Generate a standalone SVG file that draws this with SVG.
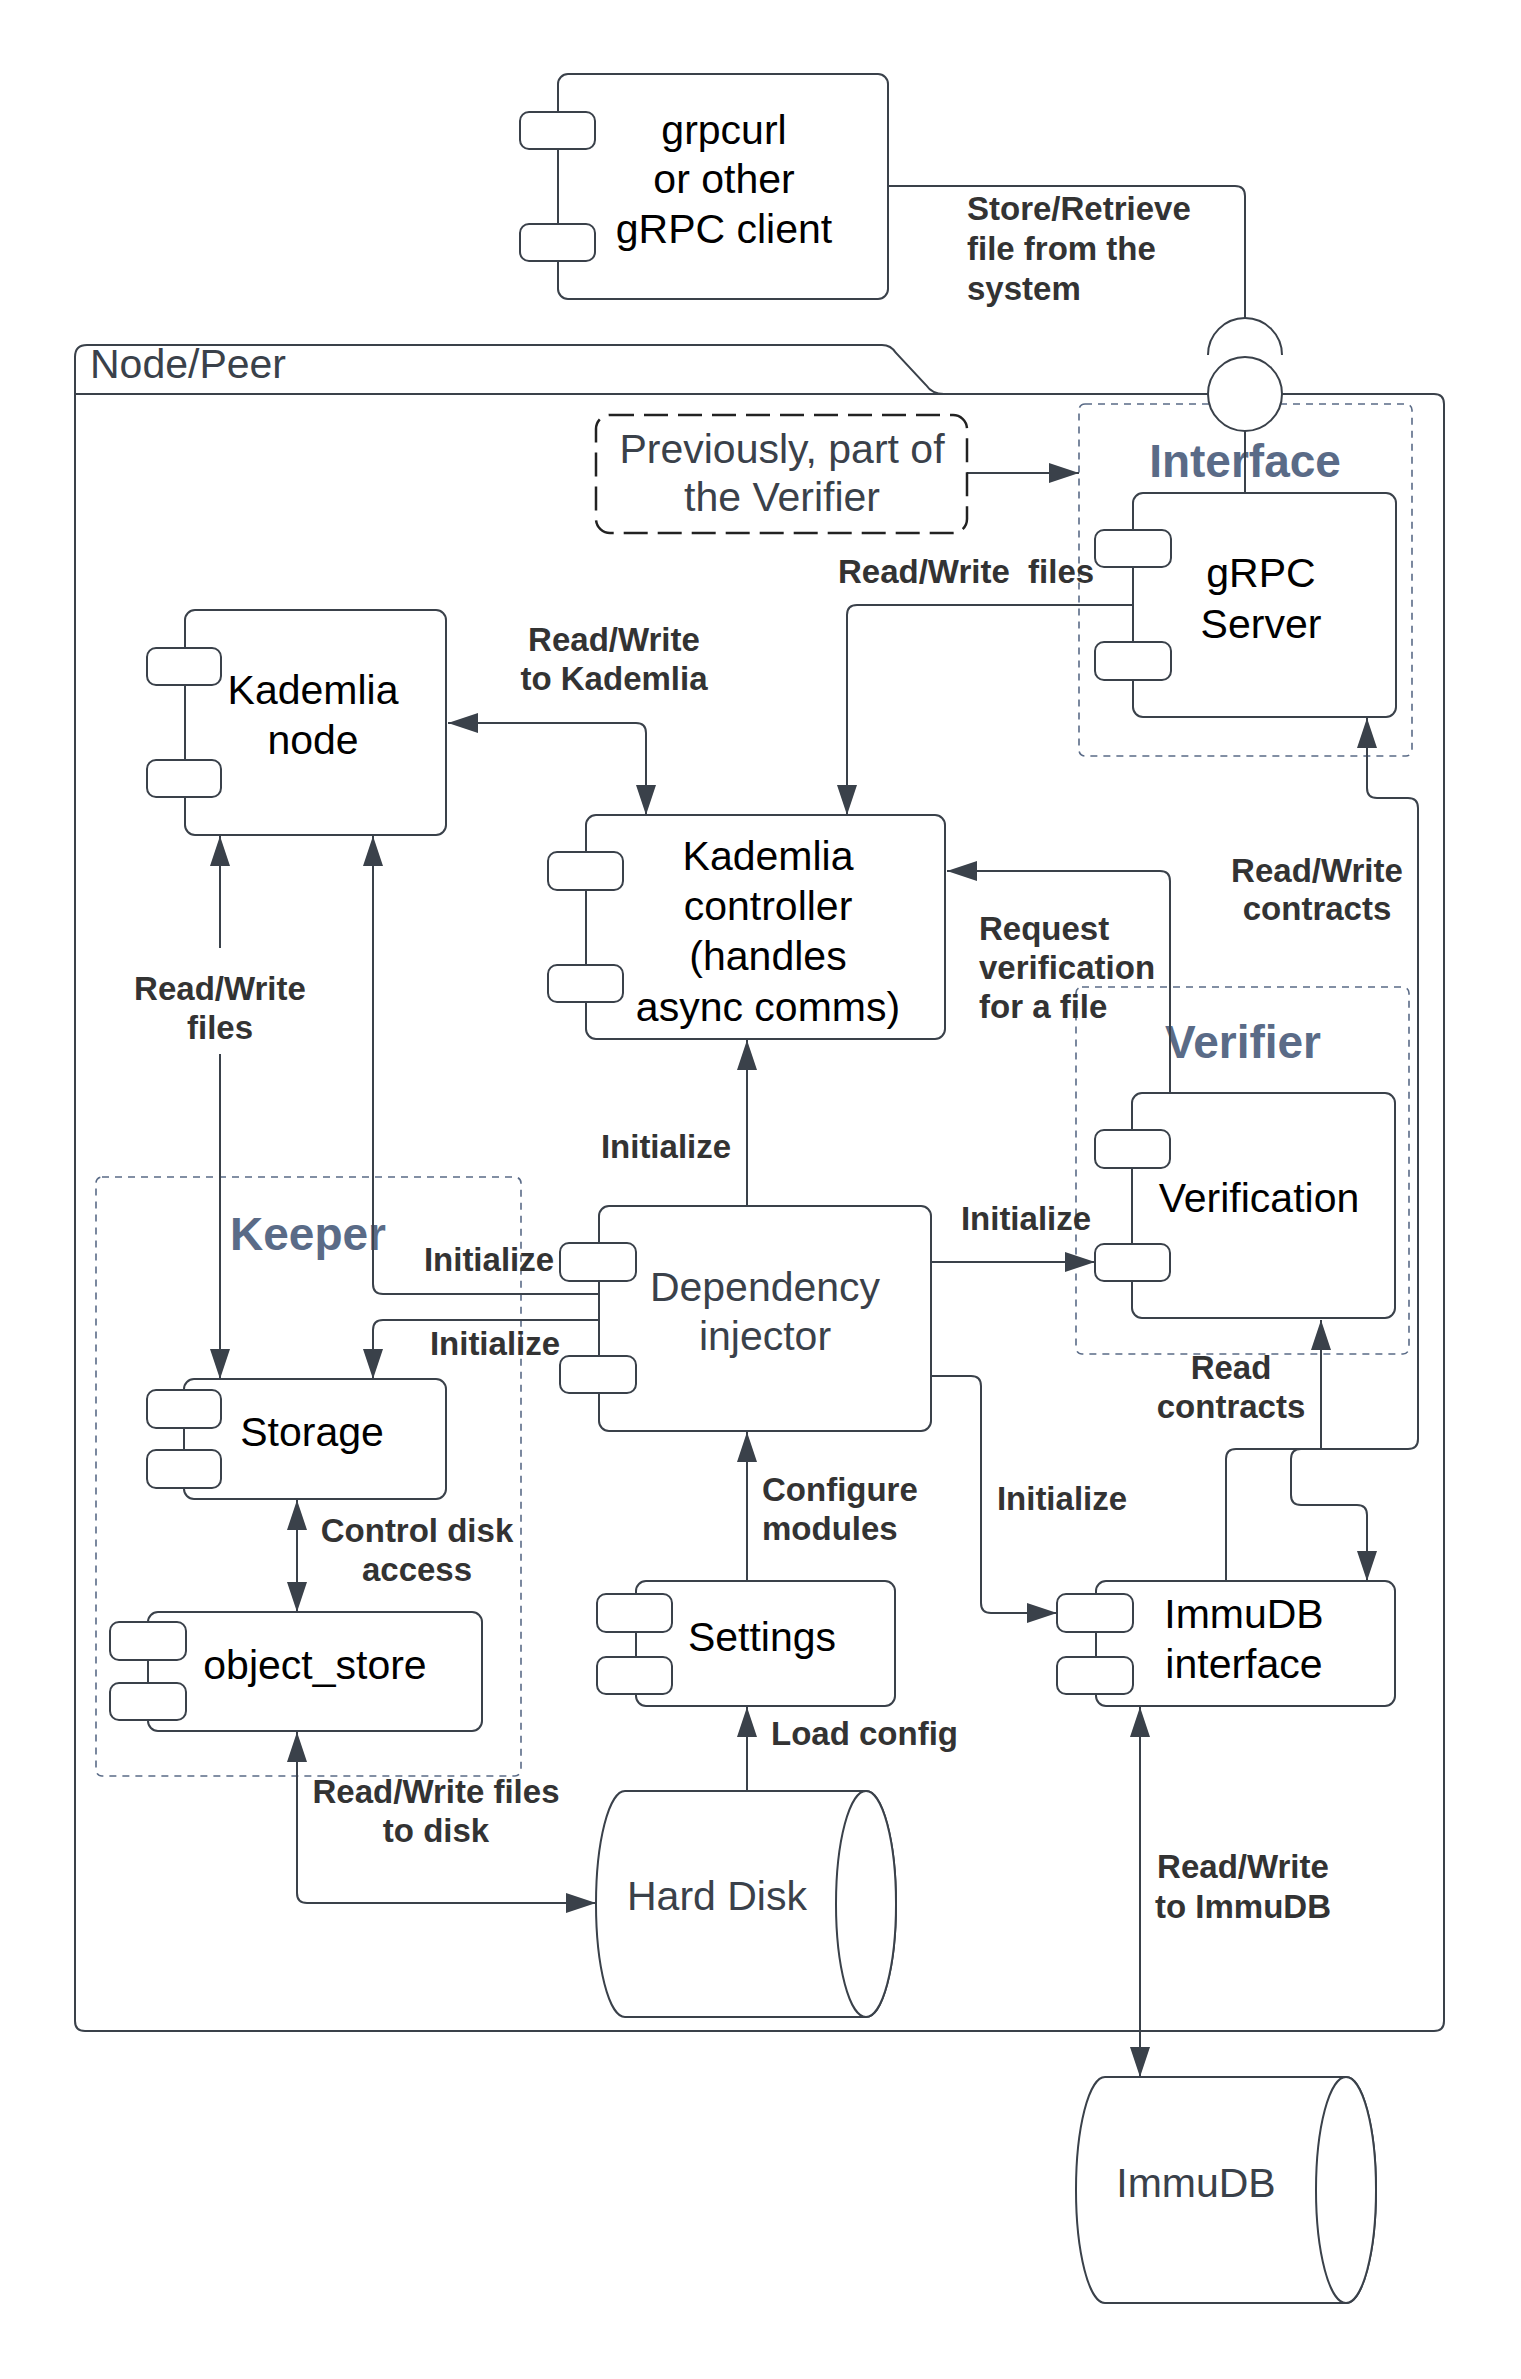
<svg xmlns="http://www.w3.org/2000/svg" width="1521" height="2379" viewBox="0 0 1521 2379">
<style>
.box{fill:#fff;stroke:#3a414a;stroke-width:2}
.conn{fill:none;stroke:#3a414a;stroke-width:2}
.grp{fill:none;stroke:#5a6b87;stroke-width:1.6;stroke-dasharray:7 6}
.t{font-family:"Liberation Sans",Arial,sans-serif;font-size:41px;fill:#000;text-anchor:middle}
.tg{fill:#3a414a}
.lbl{font-family:"Liberation Sans",Arial,sans-serif;font-size:33px;font-weight:bold;fill:#333}
.c{text-anchor:middle}
.glbl{font-family:"Liberation Sans",Arial,sans-serif;font-size:46px;font-weight:bold;fill:#5a6b87;text-anchor:middle}
</style>
<defs>
<marker id="arr" viewBox="0 0 30 20" refX="30" refY="10" markerWidth="30" markerHeight="20" markerUnits="userSpaceOnUse" orient="auto-start-reverse"><path d="M0,0 L30,10 L0,20 z" fill="#3a414a"/></marker>
</defs>
<rect width="1521" height="2379" fill="#fff"/>

<g id="node-peer">
<path class="box" d="M75,2020 V357 Q75,345 87,345 H882 Q891,345 896,353 L926,385 Q932,394 944,394 H1434 Q1444,394 1444,404 V2021 Q1444,2031 1434,2031 H85 Q75,2031 75,2021 Z"/>
<path class="conn" d="M75,394 H944"/>
<text class="t tg" x="90" y="378" style="text-anchor:start">Node/Peer</text>
</g>

<g id="group-interface"><rect class="grp" x="1079" y="404" width="333" height="352" rx="6"/><text class="glbl" x="1245" y="477">Interface</text></g>
<g id="group-verifier"><rect class="grp" x="1076" y="987" width="333" height="367" rx="6"/><text class="glbl" x="1243" y="1058">Verifier</text></g>
<g id="group-keeper"><rect class="grp" x="96" y="1177" width="425" height="599" rx="6"/><text class="glbl" x="308" y="1250">Keeper</text></g>

<g id="connectors">
<path class="conn" d="M888,186 H1235 Q1245,186 1245,196 V318"/>
<path class="conn" d="M1208,355 A37,37 0 0 1 1282,355"/>
<path class="conn" d="M1245,430 V493"/>
<path class="conn" marker-end="url(#arr)" d="M967,473 H1079"/>
<path class="conn" marker-end="url(#arr)" d="M1133,605 H857 Q847,605 847,615 V815"/>
<path class="conn" marker-start="url(#arr)" marker-end="url(#arr)" d="M448,723 H636 Q646,723 646,733 V815"/>
<path class="conn" marker-end="url(#arr)" d="M1170,1093 V881 Q1170,871 1160,871 H947"/>
<path class="conn" marker-end="url(#arr)" d="M1226,1581 V1459 Q1226,1449 1236,1449 H1408 Q1418,1449 1418,1439 V808 Q1418,798 1408,798 H1377 Q1367,798 1367,788 V718"/>
<path class="conn" marker-start="url(#arr)" marker-end="url(#arr)" d="M1321,1320 V1449 H1301 Q1291,1449 1291,1459 V1495 Q1291,1505 1301,1505 H1357 Q1367,1505 1367,1515 V1581"/>
<path class="conn" marker-end="url(#arr)" d="M747,1206 V1040"/>
<path class="conn" marker-end="url(#arr)" d="M931,1262 H1095"/>
<path class="conn" marker-end="url(#arr)" d="M599,1294 H383 Q373,1294 373,1284 V836"/>
<path class="conn" marker-end="url(#arr)" d="M599,1320 H383 Q373,1320 373,1330 V1379"/>
<path class="conn" marker-end="url(#arr)" d="M931,1376 H971 Q981,1376 981,1386 V1603 Q981,1613 991,1613 H1057"/>
<path class="conn" marker-start="url(#arr)" marker-end="url(#arr)" d="M220,836 V1379"/>
<path class="conn" marker-start="url(#arr)" marker-end="url(#arr)" d="M297,1500 V1612"/>
<path class="conn" marker-start="url(#arr)" marker-end="url(#arr)" d="M297,1732 V1893 Q297,1903 307,1903 H596"/>
<path class="conn" marker-end="url(#arr)" d="M747,1581 V1432"/>
<path class="conn" marker-end="url(#arr)" d="M747,1791 V1707"/>
<path class="conn" marker-start="url(#arr)" marker-end="url(#arr)" d="M1140,1707 V2077"/>
</g>

<g id="ball"><circle class="box" cx="1245" cy="394" r="37"/></g>

<g id="grpc-client">
<rect class="box" x="558" y="74" width="330" height="225" rx="10"/>
<rect class="box" x="520" y="112" width="75" height="37" rx="9"/>
<rect class="box" x="520" y="224" width="75" height="37" rx="9"/>
<text class="t" x="724" y="144">grpcurl</text>
<text class="t" x="724" y="193">or other</text>
<text class="t" x="724" y="243">gRPC client</text>
</g>

<g id="note-previously">
<rect x="596" y="415" width="371" height="118" rx="14" fill="#fff" stroke="#222" stroke-width="2.5" stroke-dasharray="24 10"/>
<text class="t tg" x="782" y="463">Previously, part of</text>
<text class="t tg" x="782" y="511">the Verifier</text>
</g>

<g id="grpc-server">
<rect class="box" x="1133" y="493" width="263" height="224" rx="10"/>
<rect class="box" x="1095" y="530" width="76" height="37" rx="9"/>
<rect class="box" x="1095" y="642" width="76" height="38" rx="9"/>
<text class="t" x="1261" y="587">gRPC</text>
<text class="t" x="1261" y="638">Server</text>
</g>

<g id="kademlia-node">
<rect class="box" x="185" y="610" width="261" height="225" rx="10"/>
<rect class="box" x="147" y="648" width="74" height="37" rx="9"/>
<rect class="box" x="147" y="760" width="74" height="37" rx="9"/>
<text class="t" x="313" y="704">Kademlia</text>
<text class="t" x="313" y="754">node</text>
</g>

<g id="kademlia-controller">
<rect class="box" x="586" y="815" width="359" height="224" rx="10"/>
<rect class="box" x="548" y="852" width="75" height="38" rx="9"/>
<rect class="box" x="548" y="965" width="75" height="37" rx="9"/>
<text class="t" x="768" y="870">Kademlia</text>
<text class="t" x="768" y="920">controller</text>
<text class="t" x="768" y="970">(handles</text>
<text class="t" x="768" y="1021">async comms)</text>
</g>

<g id="verification">
<rect class="box" x="1132" y="1093" width="263" height="225" rx="10"/>
<rect class="box" x="1095" y="1130" width="75" height="38" rx="9"/>
<rect class="box" x="1095" y="1244" width="75" height="37" rx="9"/>
<text class="t" x="1259" y="1212">Verification</text>
</g>

<g id="dependency-injector">
<rect class="box" x="599" y="1206" width="332" height="225" rx="10"/>
<rect class="box" x="560" y="1243" width="76" height="38" rx="9"/>
<rect class="box" x="560" y="1356" width="76" height="37" rx="9"/>
<text class="t tg" x="765" y="1301">Dependency</text>
<text class="t tg" x="765" y="1350">injector</text>
</g>

<g id="storage">
<rect class="box" x="184" y="1379" width="262" height="120" rx="10"/>
<rect class="box" x="147" y="1390" width="74" height="38" rx="9"/>
<rect class="box" x="147" y="1450" width="74" height="38" rx="9"/>
<text class="t" x="312" y="1446">Storage</text>
</g>

<g id="object-store">
<rect class="box" x="148" y="1612" width="334" height="119" rx="10"/>
<rect class="box" x="110" y="1622" width="76" height="38" rx="9"/>
<rect class="box" x="110" y="1683" width="76" height="37" rx="9"/>
<text class="t" x="315" y="1679">object_store</text>
</g>

<g id="settings">
<rect class="box" x="636" y="1581" width="259" height="125" rx="10"/>
<rect class="box" x="597" y="1594" width="75" height="38" rx="9"/>
<rect class="box" x="597" y="1657" width="75" height="37" rx="9"/>
<text class="t" x="762" y="1651">Settings</text>
</g>

<g id="immudb-interface">
<rect class="box" x="1096" y="1581" width="299" height="125" rx="10"/>
<rect class="box" x="1057" y="1594" width="76" height="38" rx="9"/>
<rect class="box" x="1057" y="1657" width="76" height="37" rx="9"/>
<text class="t" x="1244" y="1628">ImmuDB</text>
<text class="t" x="1244" y="1678">interface</text>
</g>

<g id="hard-disk">
<path class="box" d="M625,1791 H866 A30,113 0 0 1 866,2017 H625 A29,113 0 0 1 625,1791 Z"/>
<ellipse class="box" cx="866" cy="1904" rx="30" ry="113"/>
<text class="t tg" x="717" y="1910">Hard Disk</text>
</g>

<g id="immudb">
<path class="box" d="M1105,2077 H1346 A30,113 0 0 1 1346,2303 H1105 A29,113 0 0 1 1105,2077 Z"/>
<ellipse class="box" cx="1346" cy="2190" rx="30" ry="113"/>
<text class="t tg" x="1196" y="2197">ImmuDB</text>
</g>

<g id="labels">
<text class="lbl" x="967" y="220">Store/Retrieve</text>
<text class="lbl" x="967" y="260">file from the</text>
<text class="lbl" x="967" y="300">system</text>
<text class="lbl" x="838" y="583" xml:space="preserve">Read/Write  files</text>
<text class="lbl c" x="614" y="651">Read/Write</text>
<text class="lbl c" x="614" y="690">to Kademlia</text>
<text class="lbl c" x="1317" y="882">Read/Write</text>
<text class="lbl c" x="1317" y="920">contracts</text>
<text class="lbl" x="979" y="940">Request</text>
<text class="lbl" x="979" y="979">verification</text>
<text class="lbl" x="979" y="1018">for a file</text>
<rect x="173" y="948" width="94" height="106" fill="#fff"/>
<text class="lbl c" x="220" y="1000">Read/Write</text>
<text class="lbl c" x="220" y="1039">files</text>
<text class="lbl c" x="666" y="1158">Initialize</text>
<text class="lbl c" x="1026" y="1230">Initialize</text>
<text class="lbl c" x="489" y="1271">Initialize</text>
<text class="lbl c" x="495" y="1355">Initialize</text>
<text class="lbl c" x="1231" y="1379">Read</text>
<text class="lbl c" x="1231" y="1418">contracts</text>
<text class="lbl" x="762" y="1501">Configure</text>
<text class="lbl" x="762" y="1540">modules</text>
<text class="lbl c" x="1062" y="1510">Initialize</text>
<text class="lbl c" x="417" y="1542">Control disk</text>
<text class="lbl c" x="417" y="1581">access</text>
<text class="lbl" x="771" y="1745">Load config</text>
<text class="lbl c" x="436" y="1803">Read/Write files</text>
<text class="lbl c" x="436" y="1842">to disk</text>
<text class="lbl c" x="1243" y="1878">Read/Write</text>
<text class="lbl c" x="1243" y="1918">to ImmuDB</text>
</g>
</svg>
